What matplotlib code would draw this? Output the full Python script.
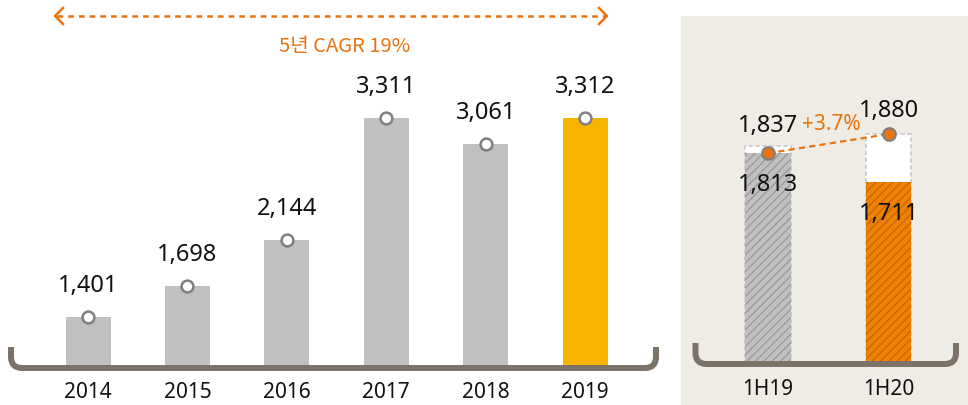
import matplotlib
matplotlib.use('Agg')
import matplotlib.pyplot as plt
from matplotlib.path import Path
from matplotlib.patches import PathPatch, Rectangle
from matplotlib.lines import Line2D

# ---------------- data ----------------
years = ['2014', '2015', '2016', '2017', '2018', '2019']
values = [1401, 1698, 2144, 3311, 3061, 3312]
half_labels = ['1H19', '1H20']
half_base = [1813, 1711]
half_total = [1837, 1880]
growth_label = '+3.7%'
cagr_label = '5년 CAGR 19%'

# ---------------- style ----------------
plt.rcParams['lines.scale_dashes'] = False
plt.rcParams['hatch.linewidth'] = 0.9
NUM_FONT = ['Noto Sans', 'DejaVu Sans']
KR_FONT = ['Noto Sans CJK KR', 'DejaVu Sans']
ORANGE = '#e8740f'
GRAY_BAR = '#bfc1c0'
GOLD = '#f6b400'
BRACKET = '#7b7268'
BEIGE = '#efebe5'
MARK_EDGE = '#7f7f7f'

W, H = 968, 406
fig = plt.figure(figsize=(W / 100, H / 100), dpi=100)
fig.patch.set_facecolor('white')


def fx(x):
    return x / W


def fy(y):
    return 1 - y / H


# beige panel background
fig.add_artist(Rectangle((fx(681), 0), fx(968) - fx(681), fy(17),
                         transform=fig.transFigure, facecolor=BEIGE,
                         edgecolor='none', zorder=-1))

# ---------------- left panel ----------------
ax1 = fig.add_axes([fx(10), fy(367), (657 - 10) / W, 367 / H])
ax1.set_facecolor('none')
ax1.set_xlim(-0.785, 5.724)
ax1.set_ylim(931, 4454)
ax1.axis('off')
xs = list(range(len(years)))
colors = [GRAY_BAR] * (len(years) - 1) + [GOLD]
ax1.bar(xs, values, width=0.453, color=colors, zorder=1)
ax1.plot(xs, values, 'o', ms=8.5, mfc='white', mec=MARK_EDGE, mew=1.8,
         zorder=3, clip_on=False)
for i, v in enumerate(values):
    ax1.annotate(f'{v:,}', (i, v), xytext=(0, 26), textcoords='offset pixels',
                 ha='center', va='baseline', fontsize=17, family=NUM_FONT,
                 color='#111111')
for i, yr in enumerate(years):
    ax1.annotate(yr, (i, 0), xycoords=('data', 'axes fraction'),
                 xytext=(0, -31), textcoords='offset pixels',
                 ha='center', va='baseline', fontsize=15, family=NUM_FONT,
                 color='#111111')

# ---------------- right panel ----------------
ax2 = fig.add_axes([fx(681), fy(363), (968 - 681) / W, 363 / H])
ax2.set_facecolor('none')
ax2.set_xlim(-0.719, 1.653)
ax2.set_ylim(1084.3, 2351.2)
ax2.axis('off')
xh = [0, 1]
ax2.bar(xh, half_total, width=0.372, color='white', edgecolor='#c8c8c8',
        linestyle=(0, (3, 2)), linewidth=1.2, zorder=1)
ax2.bar(xh, half_base, width=0.372, color=['#c0c0c0', '#ef8200'],
        edgecolor=['#999999', '#c46400'], hatch='////', linewidth=0, zorder=2)
marker_vals = [half_base[0], half_total[1]]
ax2.plot(xh, marker_vals, color=ORANGE, lw=1.6, dashes=(4.5, 3), zorder=3)
ax2.plot(xh, marker_vals, 'o', ms=9, mfc=ORANGE, mec=MARK_EDGE, mew=1.6,
         zorder=4, clip_on=False)
for i in range(2):
    ax2.annotate(f'{half_total[i]:,}', (i, half_total[i]), xytext=(0, 15 + 3 * i),
                 textcoords='offset pixels', ha='center', va='baseline',
                 fontsize=17, family=NUM_FONT, color='#111111')
    ax2.annotate(f'{half_base[i]:,}', (i, half_base[i]), xytext=(0, -37),
                 textcoords='offset pixels', ha='center', va='baseline',
                 fontsize=17, family=NUM_FONT, color='#111111')
    ax2.annotate(half_labels[i], (i, 0), xycoords=('data', 'axes fraction'),
                 xytext=(0, -32), textcoords='offset pixels',
                 ha='center', va='baseline', fontsize=15, family=NUM_FONT,
                 color='#111111')
ax2.annotate(growth_label, (0.5, (marker_vals[0] + marker_vals[1]) / 2),
             xytext=(3, 15), textcoords='offset pixels', ha='center',
             va='baseline', fontsize=15, family=NUM_FONT, color=ORANGE)


# ---------------- brackets ----------------
def bracket(x0, x1, ytop, ybot, r):
    pts = [(x0, ytop), (x0, ybot - r), (x0, ybot), (x0 + r, ybot),
           (x1 - r, ybot), (x1, ybot), (x1, ybot - r), (x1, ytop)]
    codes = [Path.MOVETO, Path.LINETO, Path.CURVE3, Path.CURVE3,
             Path.LINETO, Path.CURVE3, Path.CURVE3, Path.LINETO]
    verts = [(fx(a), fy(b)) for a, b in pts]
    fig.add_artist(PathPatch(Path(verts, codes), transform=fig.transFigure,
                             fill=False, edgecolor=BRACKET, lw=4.3,
                             capstyle='butt', joinstyle='round', zorder=5))


bracket(11, 656, 348, 369, 11)
bracket(695.5, 956, 344, 365, 11)

# ---------------- CAGR arrow ----------------
fig.add_artist(Line2D([fx(57), fx(605)], [fy(17), fy(17)], color=ORANGE,
                      lw=1.8, dashes=(4.1, 3.6), transform=fig.transFigure))
fig.add_artist(Line2D([fx(63), fx(55), fx(63)], [fy(9), fy(17), fy(25)],
                      color=ORANGE, lw=1.8, transform=fig.transFigure))
fig.add_artist(Line2D([fx(599), fx(607), fx(599)], [fy(9), fy(17), fy(25)],
                      color=ORANGE, lw=1.8, transform=fig.transFigure))
fig.text(fx(345), fy(52), cagr_label, ha='center', va='baseline',
         color=ORANGE, fontsize=14.5, family=KR_FONT)

fig.savefig('out.png', dpi=100)
